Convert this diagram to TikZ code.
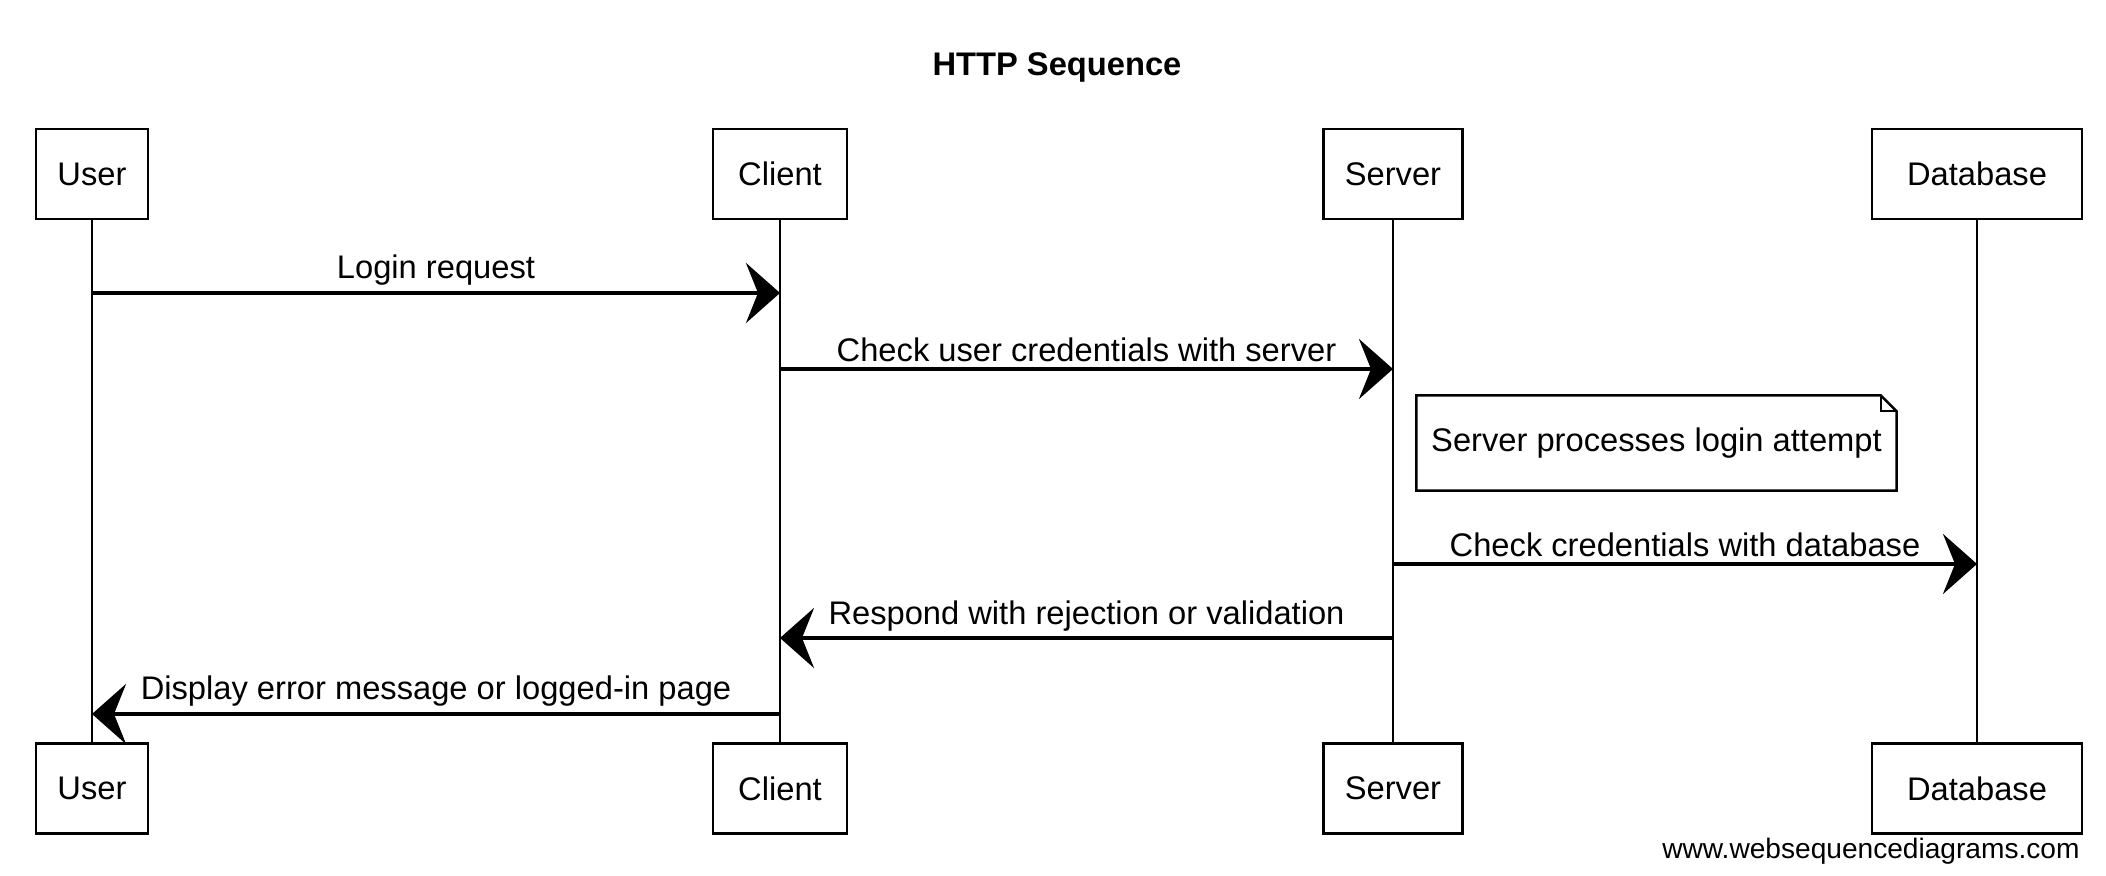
\documentclass[tikz,border=0pt]{standalone}
\usepackage{fontspec}
\setmainfont{Liberation Sans}
\usetikzlibrary{arrows.meta,calc}

\begin{document}
\begin{tikzpicture}[x=1cm,y=1cm,every node/.style={font=\fontsize{9.3}{11}\selectfont},
    actor/.style={draw,line width=.7pt,minimum height=.9cm,inner sep=0pt},
    lifeline/.style={line width=.45pt},
    msg/.style={line width=1.1pt,-{Stealth[length=3.4mm,width=6mm,inset=1.2mm]}},
    msglabel/.style={above,inner sep=1.5pt}]
    \useasboundingbox (0,0) rectangle (21.06,-8.76);
    \node (title) at (10.57,-.67) {\bfseries HTTP Sequence};
    \node[actor,minimum width=1.12cm] (userT) at (.92,-1.74) {User};
    \node[actor,minimum width=1.34cm] (clientT) at (7.80,-1.74) {Client};
    \node[actor,minimum width=1.39cm] (serverT) at (13.93,-1.74) {Server};
    \node[actor,minimum width=2.10cm] (dbT) at (19.77,-1.74) {Database};
    \node[actor,minimum width=1.12cm] (userB) at (.92,-7.885) {User};
    \node[actor,minimum width=1.34cm] (clientB) at (7.80,-7.885) {Client};
    \node[actor,minimum width=1.39cm] (serverB) at (13.93,-7.885) {Server};
    \node[actor,minimum width=2.10cm] (dbB) at (19.77,-7.885) {Database};
    \draw[lifeline] (userT) -- (userB);
    \draw[lifeline] (clientT) -- (clientB);
    \draw[lifeline] (serverT) -- (serverB);
    \draw[lifeline] (dbT) -- (dbB);
    \coordinate (m1) at (0,-2.93);
    \coordinate (m2) at (0,-3.69);
    \coordinate (m3) at (0,-5.64);
    \coordinate (m4) at (0,-6.38);
    \coordinate (m5) at (0,-7.14);
    \draw[msg] (userT |- m1) -- node[msglabel] (l1) {Login request} (clientT |- m1);
    \draw[msg] (clientT |- m2) -- node[msglabel] (l2) {Check user credentials with server} (serverT |- m2);
    \node[minimum width=4.79cm,minimum height=.94cm] (note) at (16.565,-4.43) {Server processes login attempt};
    \draw[line width=.7pt] (note.south west) -- (note.north west) -- ([xshift=-1.6mm]note.north east)
      -- ([yshift=-1.6mm]note.north east) -- (note.south east) -- cycle;
    \draw[line width=.45pt] ([xshift=-1.6mm]note.north east) |- ([yshift=-1.6mm]note.north east);
    \draw[msg] (serverT |- m3) -- node[msglabel] (l3) {Check credentials with database} (dbT |- m3);
    \draw[msg] (serverT |- m4) -- node[msglabel] (l4) {Respond with rejection or validation} (clientT |- m4);
    \draw[msg] (clientT |- m5) -- node[msglabel] (l5) {Display error message or logged-in page} (userT |- m5);
    \node[anchor=east,font=\fontsize{8}{10}\selectfont] (wsd) at (20.92,-8.51) {www.websequencediagrams.com};
\end{tikzpicture}
\end{document}
